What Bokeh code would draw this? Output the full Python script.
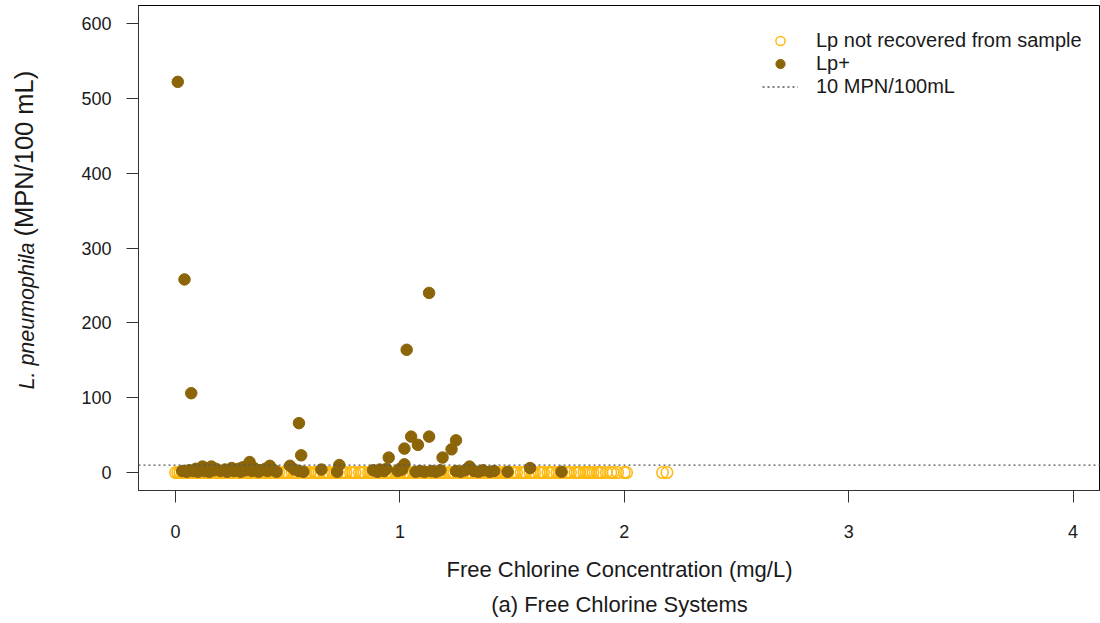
from bokeh.plotting import figure
from bokeh.models import Range1d, FixedTicker, Span, Title, Legend, LegendItem
from bokeh.embed import file_html
from bokeh.resources import INLINE

# ---- data ----
# Lp+ samples (filled points)
lp_pos_x = [0.01, 0.04, 0.07, 0.55, 0.56, 1.03, 1.13,
            1.05, 1.08, 1.13, 1.02, 0.95, 1.19, 1.23, 1.25, 1.02, 1.31, 1.00,
            0.03, 0.05, 0.06, 0.08, 0.09, 0.10, 0.11, 0.12, 0.13, 0.14, 0.15, 0.16,
            0.17, 0.18, 0.20, 0.22, 0.23, 0.25, 0.26, 0.28, 0.29, 0.30, 0.31, 0.33,
            0.34, 0.35, 0.37, 0.38, 0.40, 0.41, 0.42, 0.44, 0.45,
            0.51, 0.53, 0.55, 0.57, 0.65, 0.72, 0.73, 0.88, 0.90, 0.91, 0.93, 0.94,
            0.99, 1.01, 1.07, 1.09, 1.11, 1.14, 1.16, 1.18, 1.25, 1.27, 1.29, 1.33,
            1.35, 1.37, 1.40, 1.42, 1.48, 1.58, 1.72]
lp_pos_y = [522, 258, 106, 66, 23, 164, 240,
            48, 37, 48, 32, 20, 20, 31, 43, 11, 8, 5,
            2, 1, 3, 2, 5, 1, 4, 8, 2, 6, 1, 8,
            3, 5, 2, 4, 1, 6, 2, 5, 1, 7, 3, 14,
            2, 6, 1, 3, 5, 2, 9, 3, 1,
            9, 4, 2, 1, 4, 1, 10, 3, 1, 4, 2, 5,
            2, 4, 1, 2, 1, 2, 1, 3, 2, 1, 3, 2,
            1, 3, 1, 2, 1, 6, 1]

# Lp not recovered from sample (open circles, plotted at 0)
lp_neg_x = [0.00, 0.01, 0.02, 0.02, 0.03, 0.04, 0.05, 0.06, 0.07, 0.08, 0.09, 0.10,
            0.11, 0.12, 0.13, 0.14, 0.15, 0.16, 0.18, 0.19, 0.20, 0.21, 0.22, 0.24,
            0.25, 0.26, 0.28, 0.29, 0.30, 0.32, 0.33, 0.34, 0.36, 0.37, 0.38, 0.40,
            0.41, 0.42, 0.44, 0.45, 0.46, 0.48, 0.49, 0.50, 0.52, 0.53, 0.54, 0.56,
            0.58, 0.59, 0.60, 0.62, 0.63, 0.64, 0.66, 0.67, 0.68, 0.70, 0.71, 0.72,
            0.74, 0.75, 0.76, 0.78, 0.79, 0.80, 0.82, 0.83, 0.84, 0.86, 0.87, 0.88,
            0.90, 0.91, 0.92, 0.94, 0.95, 0.96, 0.98, 0.99, 1.00, 1.02, 1.03, 1.04,
            1.06, 1.07, 1.08, 1.10, 1.11, 1.12, 1.14, 1.15, 1.16, 1.18, 1.19, 1.20,
            1.22, 1.23, 1.24, 1.26, 1.27, 1.28, 1.30, 1.31, 1.32, 1.34, 1.35, 1.36,
            1.38, 1.39, 1.40, 1.42, 1.43, 1.44, 1.46, 1.47, 1.48, 1.50, 1.51, 1.52,
            1.54, 1.55, 1.56, 1.58, 1.59, 1.60, 1.62, 1.63, 1.64, 1.66, 1.67, 1.68,
            1.70, 1.71, 1.72, 1.74, 1.75, 1.76, 1.78, 1.79, 1.80, 1.82, 1.83, 1.84,
            1.85, 1.86, 1.88, 1.89, 1.90, 1.92, 1.94, 1.95, 1.97, 2.00, 2.01, 2.17, 2.19]
lp_neg_y = [0] * len(lp_neg_x)

threshold = 10
x_ticks = [0, 1, 2, 3, 4]
y_ticks = [0, 100, 200, 300, 400, 500, 600]

FONT = "Liberation Sans"
TXT = "#1a1a1a"
COL_NEG = "#FFB90F"
COL_POS = "#8B6508"

p = figure(width=1100, height=623, output_backend="svg", toolbar_location=None,
           x_range=Range1d(-0.165, 4.122), y_range=Range1d(-24, 624),
           min_border_left=138, min_border_right=0, min_border_top=5,
           min_border_bottom=133)
p.grid.visible = False
p.outline_line_color = "black"
p.outline_line_width = 1
p.background_fill_color = "white"
p.border_fill_color = "white"

for ax, ticks in ((p.xaxis, x_ticks), (p.yaxis, y_ticks)):
    ax.ticker = FixedTicker(ticks=ticks)
    ax.minor_tick_line_color = None
    ax.major_tick_in = 0
    ax.major_tick_out = 12
    ax.major_tick_line_color = "#333333"
    ax.axis_line_color = "#333333"
    ax.major_label_text_font = FONT
    ax.major_label_text_font_size = "18px"
    ax.major_label_text_color = TXT
p.xaxis.major_label_standoff = 22
p.yaxis.major_label_standoff = 15

p.xaxis.axis_label = "Free Chlorine Concentration (mg/L)"
p.xaxis.axis_label_text_font = FONT
p.xaxis.axis_label_text_font_size = "22px"
p.xaxis.axis_label_text_font_style = "normal"
p.xaxis.axis_label_text_color = TXT
p.xaxis.axis_label_standoff = 16

# reference line
p.add_layout(Span(location=threshold, dimension="width", line_color="#555555",
                  line_dash="2 3", line_width=1.3))

p.scatter(lp_neg_x, lp_neg_y, marker="circle", size=11.5, fill_color=None,
          line_color=COL_NEG, line_width=1.5)
p.scatter(lp_pos_x, lp_pos_y, marker="circle", size=11.5, fill_color=COL_POS,
          line_color=COL_POS)

# legend proxies (one point placed off-range so legend glyphs get drawn)
r1 = p.scatter([-10], [-1000], marker="circle", size=9, fill_color=None, line_color=COL_NEG, line_width=1.5)
r2 = p.scatter([-10], [-1000], marker="circle", size=9, fill_color=COL_POS, line_color=COL_POS)
r3 = p.line([-10, -9], [-1000, -1000], line_color="#555555", line_dash="2 3", line_width=1.3)
legend = Legend(items=[LegendItem(label="Lp not recovered from sample", renderers=[r1]),
                       LegendItem(label="Lp+", renderers=[r2]),
                       LegendItem(label="10 MPN/100mL", renderers=[r3])],
                location=(624, 392), padding=0, margin=0, spacing=0,
                glyph_width=36, glyph_height=23, label_height=23, label_standoff=18,
                label_text_font=FONT, label_text_font_size="20px", label_text_color=TXT,
                border_line_color=None, background_fill_alpha=0)
p.add_layout(legend, "center")

# subtitle
p.add_layout(Title(text="(a) Free Chlorine Systems", align="center", standoff=10,
                   text_font=FONT, text_font_size="22px", text_font_style="normal",
                   text_color=TXT), "below")

# y-axis title in two parts (italic species name + units), sharing one column:
# a blank spacer panel, then two zero-width title panels centred on the same x
p.add_layout(Title(text=" ", standoff=23, text_font=FONT, text_font_size="22px",
                   text_color=TXT), "left")
p.add_layout(Title(text="L. pneumophila", align="right", offset=237, standoff=-23,
                   vertical_align="middle", text_font=FONT, text_font_size="21.5px",
                   text_font_style="italic", text_color=TXT), "left")
p.add_layout(Title(text="(MPN/100 mL)", align="left", offset=254, standoff=-27,
                   vertical_align="middle", text_font=FONT, text_font_size="25.5px",
                   text_font_style="normal", text_color=TXT), "left")

open("out.html", "w").write(file_html(p, INLINE))
